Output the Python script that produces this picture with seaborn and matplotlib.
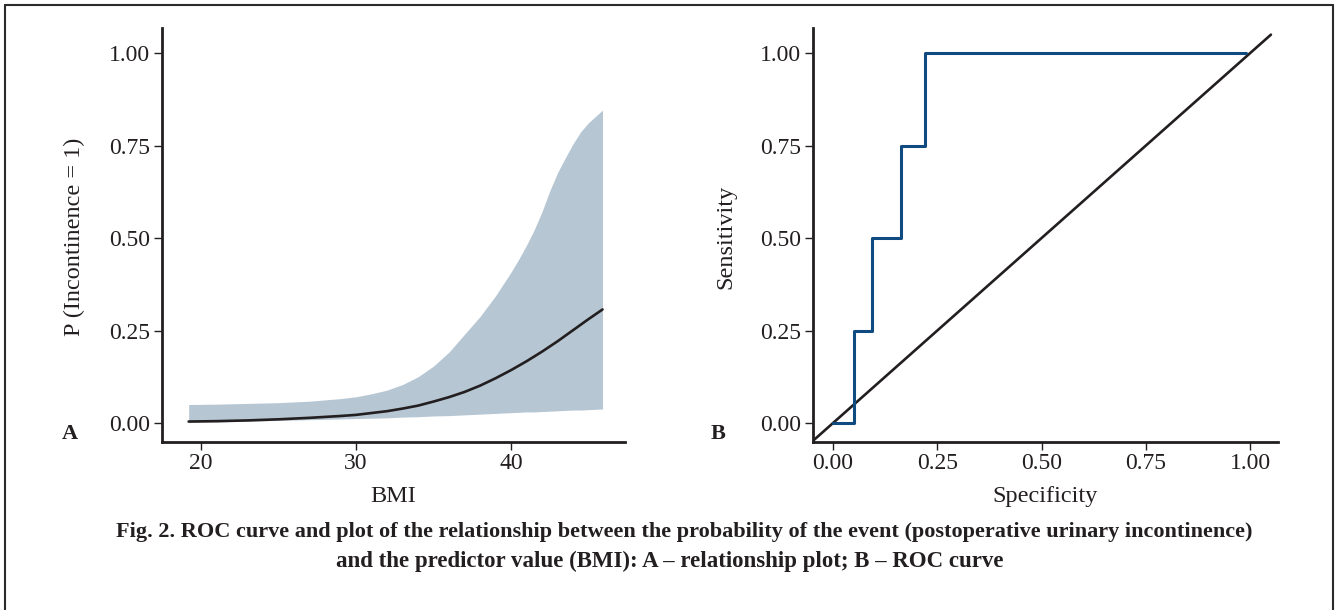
import matplotlib
matplotlib.use("Agg")
import matplotlib.pyplot as plt
import seaborn as sns
import pandas as pd
from matplotlib.lines import Line2D

# ---- data ----
bmi = [19.2, 21, 23, 25, 27, 29, 30, 31, 32, 33, 34, 35, 36, 37, 38, 39, 40, 40.5, 41, 41.5,
       42, 42.5, 43, 43.5, 44, 44.5, 45, 45.9]
prob_fit = [0.004, 0.005, 0.007, 0.010, 0.014, 0.019, 0.022, 0.027, 0.032, 0.039, 0.047, 0.058,
            0.070, 0.084, 0.101, 0.121, 0.143, 0.155, 0.167, 0.180, 0.193, 0.207, 0.221, 0.236,
            0.251, 0.266, 0.281, 0.307]
prob_upper = [0.050, 0.051, 0.053, 0.055, 0.059, 0.066, 0.071, 0.079, 0.089, 0.104, 0.125, 0.154,
              0.192, 0.240, 0.288, 0.344, 0.408, 0.443, 0.481, 0.523, 0.572, 0.628, 0.677, 0.717,
              0.755, 0.788, 0.812, 0.846]
prob_lower = [0.002, 0.003, 0.005, 0.007, 0.009, 0.011, 0.012, 0.013, 0.014, 0.016, 0.017, 0.019,
              0.020, 0.022, 0.024, 0.026, 0.028, 0.029, 0.030, 0.030, 0.031, 0.032, 0.033, 0.034,
              0.035, 0.035, 0.036, 0.038]

roc_spec = [0.0, 0.05, 0.05, 0.093, 0.093, 0.162, 0.162, 0.221, 0.221, 0.99]
roc_sens = [0.0, 0.0, 0.25, 0.25, 0.50, 0.50, 0.75, 0.75, 1.00, 1.00]
diag = [-0.05, 1.05]

prob_ticks = [0.00, 0.25, 0.50, 0.75, 1.00]
bmi_ticks = [20, 30, 40]
spec_ticks = [0.00, 0.25, 0.50, 0.75, 1.00]

caption_1 = ("Fig. 2. ROC curve and plot of the relationship between the probability of the event "
             "(postoperative urinary incontinence)")
caption_2 = "and the predictor value (BMI): A \u2013 relationship plot; B \u2013 ROC curve"

# ---- style ----
sns.set_theme(style="ticks")
plt.rcParams["font.family"] = ["Liberation Serif", "DejaVu Serif"]

W, H = 1336, 610
fig = plt.figure(figsize=(W / 100, H / 100), dpi=100)
fig.patch.set_facecolor("white")

ink = "#231f20"
band_col = "#b6c6d3"
roc_col = "#0f4a80"
TICK_FS = 17
LABEL_FS = 17.5

def px_axes(x0, x1, y0, y1):
    return fig.add_axes([x0 / W, 1 - y1 / H, (x1 - x0) / W, (y1 - y0) / H])

axA = px_axes(162, 625, 28, 441.5)
axB = px_axes(812.6, 1277.6, 28, 441.5)

# ---- Panel A ----
dfA = pd.DataFrame({"BMI": bmi, "fit": prob_fit, "lo": prob_lower, "hi": prob_upper})
axA.fill_between(dfA["BMI"], dfA["lo"], dfA["hi"], color=band_col, linewidth=0)
sns.lineplot(data=dfA, x="BMI", y="fit", ax=axA, color=ink, linewidth=1.9,
             estimator=None, sort=False)
axA.set_xlim(17.48, 47.35)
axA.set_ylim(-0.05, 1.068)
axA.set_xticks(bmi_ticks)
axA.set_yticks(prob_ticks)
axA.set_yticklabels([f"{t:.2f}" for t in prob_ticks])
axA.set_xlabel("BMI", fontsize=LABEL_FS)
axA.set_ylabel("P (Incontinence = 1)", fontsize=LABEL_FS)

# ---- Panel B ----
dfB = pd.DataFrame({"spec": roc_spec, "sens": roc_sens})
dfD = pd.DataFrame({"x": diag, "y": diag})
sns.lineplot(data=dfD, x="x", y="y", ax=axB, color=ink, linewidth=1.9,
             estimator=None, sort=False)
sns.lineplot(data=dfB, x="spec", y="sens", ax=axB, color=roc_col, linewidth=2.2,
             estimator=None, sort=False)
axB.set_xlim(-0.049, 1.066)
axB.set_ylim(-0.05, 1.068)
axB.set_xticks(spec_ticks)
axB.set_xticklabels([f"{t:.2f}" for t in spec_ticks])
axB.set_yticks(prob_ticks)
axB.set_yticklabels([f"{t:.2f}" for t in prob_ticks])
axB.set_xlabel("Specificity", fontsize=LABEL_FS)
axB.set_ylabel("Sensitivity", fontsize=LABEL_FS)

for ax, ylab_x in ((axA, -0.19), (axB, -0.187)):
    sns.despine(ax=ax)
    ax.set_facecolor("white")
    ax.grid(False)
    for s in ("left", "bottom"):
        ax.spines[s].set_color(ink)
        ax.spines[s].set_linewidth(2.0)
    ax.tick_params(axis="both", direction="out", length=6, width=1.0, color=ink,
                   labelsize=TICK_FS, labelcolor=ink, pad=2.5)
    ax.xaxis.label.set_color(ink)
    ax.yaxis.label.set_color(ink)
    ax.xaxis.set_label_coords(0.5, -0.132)
    ax.xaxis.label.set_va("center")
    ax.yaxis.set_label_coords(ylab_x, 0.494)
    ax.yaxis.label.set_va("center")

# panel letters
fig.text(70 / W, 1 - 434 / H, "A", fontsize=16, fontweight="bold", color=ink,
         ha="center", va="center")
fig.text(718 / W, 1 - 434 / H, "B", fontsize=16, fontweight="bold", color=ink,
         ha="center", va="center")

# caption
fig.text(684 / W, 1 - 532 / H, caption_1, fontsize=16, fontweight="bold", color=ink,
         ha="center", va="center")
fig.text(670 / W, 1 - 561 / H, caption_2, fontsize=16.5, fontweight="bold", color=ink,
         ha="center", va="center")

# outer frame (open at the bottom)
frame_kw = dict(color="#2b2b2b", linewidth=1.5, transform=fig.transFigure)
fig.add_artist(Line2D([5 / W, 5 / W], [0, 1 - 5 / H], **frame_kw))
fig.add_artist(Line2D([5 / W, 1333 / W], [1 - 5 / H, 1 - 5 / H], **frame_kw))
fig.add_artist(Line2D([1333 / W, 1333 / W], [0, 1 - 5 / H], **frame_kw))

fig.savefig("out.png", dpi=100, facecolor="white")
